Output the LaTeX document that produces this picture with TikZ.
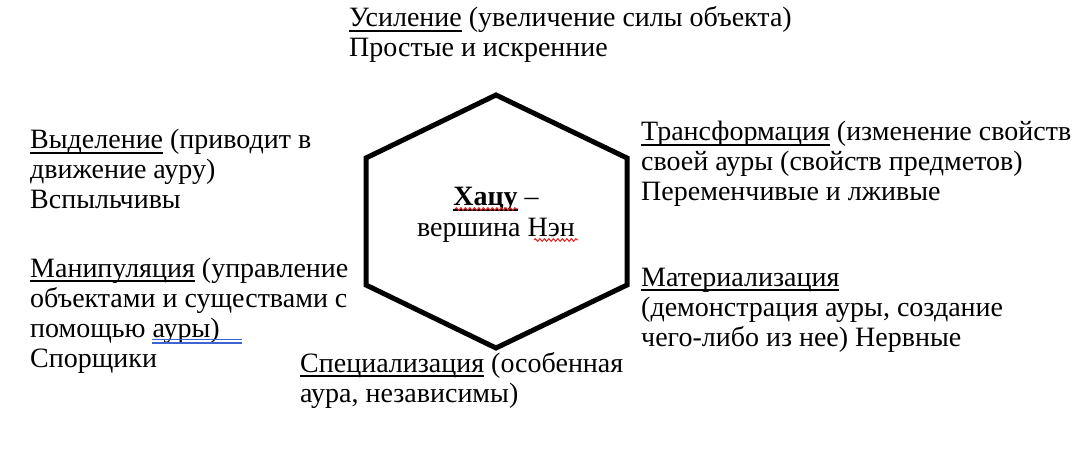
\documentclass[tikz,border=0pt]{standalone}
\usepackage{fontspec}
\setmainfont{Liberation Serif}
\usetikzlibrary{decorations.pathmorphing}
\definecolor{spellblue}{RGB}{60,100,210}
\definecolor{spellred}{RGB}{230,30,30}
\newsavebox\myulbox
\newcommand\myul[1]{\sbox\myulbox{#1}\rlap{\rule[-4.75pt]{\wd\myulbox}{1.5pt}}\usebox\myulbox}
\begin{document}
\begin{tikzpicture}[x=1pt,y=-1pt,
  txt/.style={anchor=base west, inner sep=0pt, align=left, font=\fontsize{28}{30}\selectfont},
  ctr/.style={anchor=base, inner sep=0pt, align=center, font=\fontsize{28}{31}\selectfont},
  hexline/.style={line width=5pt, line join=miter},
  wave/.style={spellred, line width=1pt, decorate, decoration={snake, amplitude=1.3pt, segment length=4.5pt}},
  dbl/.style={spellblue, line width=1.3pt}]
\useasboundingbox[fill=white] (0,0) rectangle (1077,449);
% hexagon
\coordinate (h1) at (496,95);
\coordinate (h2) at (627,158);
\coordinate (h3) at (627,285);
\coordinate (h4) at (496,348);
\coordinate (h5) at (366,285);
\coordinate (h6) at (366,158);
\draw[hexline] (h1) -- (h2) -- (h3) -- (h4) -- (h5) -- (h6) -- cycle;
% centre
\node[ctr] (c) at (496,237) {\myul{\textbf{Хацу}} –\\вершина Нэн};
% texts
\node[txt] (top) at (349,57) {\myul{Усиление} (увеличение силы объекта)\\Простые и искренние};
\node[txt] (lu) at (30,209) {\myul{Выделение} (приводит в\\движение ауру)\\Вспыльчивы};
\node[txt] (ll) at (30,367) {\myul{Манипуляция} (управление\\объектами и существами с\\помощью ауры)\\Спорщики};
\node[txt] (ru) at (641,201) {\myul{Трансформация} (изменение свойств\\своей ауры (свойств предметов)\\Переменчивые и лживые};
\node[txt] (rl) at (641,346) {\myul{Материализация}\\(демонстрация ауры, создание\\чего-либо из нее) Нервные};
\node[txt] (bt) at (300,402) {\myul{Специализация} (особенная\\аура, независимы)};
% spell-check marks
\draw[wave] (455,209) -- (518,209);
\draw[wave] (534,240) -- (578,240);
\draw[dbl] (152,339.5) -- (242,339.5);
\draw[dbl] (152,343) -- (242,343);
\end{tikzpicture}
\end{document}
